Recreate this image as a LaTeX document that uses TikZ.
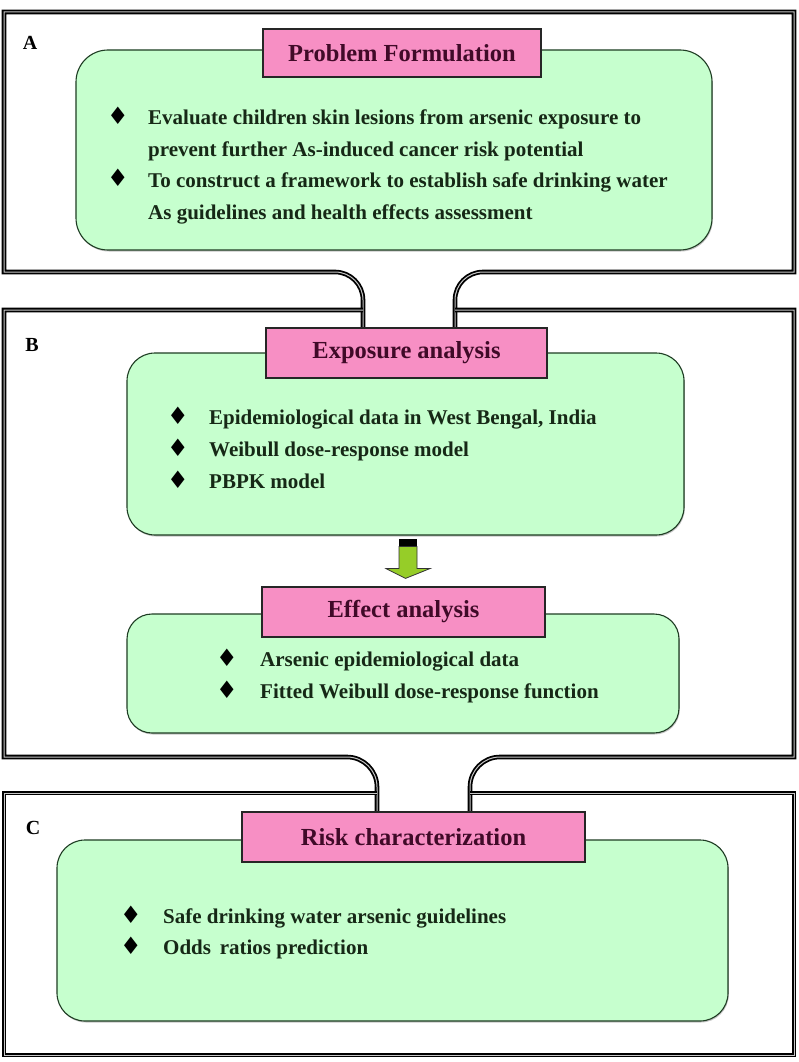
\documentclass[tikz,border=0pt]{standalone}
\usepackage{fontspec}
\setmainfont{Liberation Serif}
\newfontfamily\bodyfont{Liberation Serif}
\newfontfamily\symfont{DejaVu Sans}
\usetikzlibrary{shadows,calc}

\definecolor{mint}{RGB}{198,255,206}
\definecolor{rose}{RGB}{247,143,196}
\definecolor{titleink}{RGB}{64,10,40}
\definecolor{bodyink}{RGB}{22,40,22}
\definecolor{leaf}{RGB}{150,205,40}
\definecolor{panelline}{RGB}{30,60,35}

\tikzset{
  frame/.style={draw=black, line width=1.8pt, double=gray!45, double distance=1pt},
  panel/.style={draw=panelline, fill=mint, line width=1.1pt, rounded corners=#1,
    drop shadow={shadow xshift=0.8pt, shadow yshift=-1.5pt, opacity=0.45}},
  header/.style={draw=black!85, fill=rose, line width=1.2pt, inner sep=0pt,
    font=\bfseries\fontsize{24.5}{24.5}\selectfont, text=titleink},
  item/.style={anchor=base west, inner sep=0pt, align=left, text=bodyink,
    font=\bodyfont\bfseries\fontsize{21}{32}\selectfont},
  bullet/.style={inner sep=0pt, font=\symfont\fontsize{24}{24}\selectfont},
  tag/.style={inner sep=0pt, font=\bfseries\fontsize{20}{20}\selectfont},
}

\begin{document}
\begin{tikzpicture}[x=1pt,y=1pt]
\useasboundingbox (0,0) rectangle (798,-1062);
\fill[white] (0,0) rectangle (798,-1062);

% outer frames, joined by the necks between the stages
\draw[frame] (363,-328) -- (363,-300) arc[start angle=0,end angle=90,radius=28]
  -- (4,-272) -- (4,-12) -- (794,-12) -- (794,-272) -- (483,-272)
  arc[start angle=90,end angle=180,radius=28] -- (455,-328);
\draw[frame] (377,-812) -- (377,-787) arc[start angle=0,end angle=90,radius=30]
  -- (4,-757) -- (4,-310) -- (363,-310);
\draw[frame] (455,-310) -- (794,-310) -- (794,-757) -- (500,-757)
  arc[start angle=90,end angle=180,radius=30] -- (470,-812);
\draw[frame] (377,-793) -- (4,-793) -- (4,-1055) -- (794,-1055) -- (794,-793) -- (470,-793);

% stage letters
\node[tag] (lA) at (30,-43) {A};
\node[tag] (lB) at (32,-345) {B};
\node[tag] (lC) at (33,-828) {C};

% green panels
\node[panel=32pt, minimum width=636pt, minimum height=200pt] (pA) at (394,-150) {};
\node[panel=28pt, minimum width=557pt, minimum height=182pt] (pB) at (405.5,-444) {};
\node[panel=25pt, minimum width=552pt, minimum height=119pt] (pE) at (403,-673.5) {};
\node[panel=28pt, minimum width=671pt, minimum height=181pt] (pC) at (392.5,-930.5) {};

% titles
\node[header, minimum width=278pt, minimum height=48pt] (hA) at (402,-53) {Problem Formulation};
\node[header, minimum width=281pt, minimum height=50pt] (hB) at (406.5,-353) {Exposure analysis};
\node[header, minimum width=283pt, minimum height=50pt] (hE) at (403.5,-612) {Effect analysis};
\node[header, minimum width=343pt, minimum height=50pt] (hC) at (413.5,-837) {Risk characterization};

% problem formulation items
\node[bullet] (bA1) at (118,-116) {♦};
\node[bullet] (bA2) at (118,-178) {♦};
\node[item] (tA1) at (148,-156) {Evaluate children skin lesions from arsenic exposure to\\prevent further As-induced cancer risk potential};
\node[item] (tA2) at (148,-219) {To construct a framework to establish safe drinking water\\As guidelines and health effects assessment};

% exposure analysis items
\node[bullet] (bB1) at (178,-416) {♦};
\node[bullet] (bB2) at (178,-448) {♦};
\node[bullet] (bB3) at (178,-480) {♦};
\node[item] (tB1) at (209,-424) {Epidemiological data in West Bengal, India};
\node[item] (tB2) at (209,-456) {Weibull dose-response model};
\node[item] (tB3) at (209,-488) {PBPK model};

% effect analysis items
\node[bullet] (bE1) at (227,-658) {♦};
\node[bullet] (bE2) at (227,-690) {♦};
\node[item] (tE1) at (260,-666) {Arsenic epidemiological data};
\node[item] (tE2) at (260,-698) {Fitted Weibull dose-response function};

% risk characterization items
\node[bullet] (bC1) at (131,-915) {♦};
\node[bullet] (bC2) at (131,-946) {♦};
\node[item] (tC1) at (163,-923) {Safe drinking water arsenic guidelines};
\node[item] (tC2) at (163,-954) {Odds\, ratios prediction};

% block arrow from exposure panel down to the effect title
\coordinate (aTop) at ($(pB.south)+(2.5,-3)$);
\coordinate (aTip) at ($(hE.north)+(2,8)$);
\fill[black] ($(aTop)+(-9,0)$) rectangle ($(aTop)+(9,-8)$);
\draw[draw=black!80, fill=leaf, line width=0.8pt]
  ($(aTop)+(-9,-8)$) -- ($(aTop)+(-9,-30)$) -- ($(aTop)+(-22,-30)$) -- (aTip)
  -- ($(aTop)+(22,-30)$) -- ($(aTop)+(9,-30)$) -- ($(aTop)+(9,-8)$) -- cycle;
\end{tikzpicture}
\end{document}
